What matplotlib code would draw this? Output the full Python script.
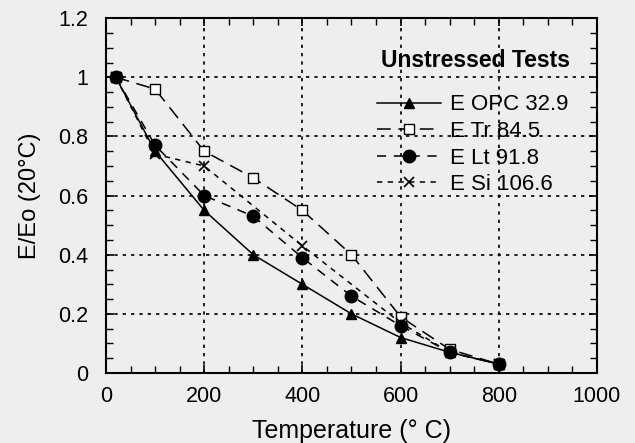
import numpy as np
import matplotlib.pyplot as plt
from matplotlib.ticker import MultipleLocator

plt.rcParams['font.family'] = ['Liberation Sans', 'DejaVu Sans']

# data
temp = [20, 100, 200, 300, 400, 500, 600, 700, 800]
opc = [1.0, 0.75, 0.55, 0.40, 0.30, 0.20, 0.12, 0.07, 0.03]
tr = [1.0, 0.96, 0.75, 0.66, 0.55, 0.40, 0.19, 0.08, 0.03]
lt = [1.0, 0.77, 0.60, 0.53, 0.39, 0.26, 0.16, 0.07, 0.03]
temp_si = [20, 100, 200, 400, 600, 700, 800]
si = [1.0, 0.74, 0.70, 0.43, 0.17, 0.07, 0.03]

bg = '#eeeeee'
fig, ax = plt.subplots(figsize=(6.35, 4.43), dpi=100)
fig.patch.set_facecolor(bg)
ax.set_facecolor(bg)
fig.subplots_adjust(left=0.167, right=0.940, bottom=0.158, top=0.959)

ax.plot(temp, opc, color='black', lw=1.1, ls='-', marker='^', ms=7,
        mfc='black', label='E OPC 32.9')
ax.plot(temp, tr, color='black', lw=1.1, ls=(0, (9, 5)), marker='s', ms=7.5,
        mfc='white', mec='black', label='E Tr 84.5')
ax.plot(temp, lt, color='black', lw=1.1, ls=(0, (6, 5)), marker='o', ms=9,
        mfc='black', label='E Lt 91.8')
ax.plot(temp_si, si, color='black', lw=1.1, ls=(0, (3.5, 3.5)), marker='x', ms=7,
        mew=1.2, label='E Si 106.6')

ax.set_xlim(0, 1000)
ax.set_ylim(0, 1.2)
ax.xaxis.set_major_locator(MultipleLocator(200))
ax.xaxis.set_minor_locator(MultipleLocator(50))
ax.yaxis.set_minor_locator(MultipleLocator(0.05))
ax.set_yticks([0, 0.2, 0.4, 0.6, 0.8, 1.0, 1.2])
ax.set_yticklabels(['0', '0.2', '0.4', '0.6', '0.8', '1', '1.2'])
ax.tick_params(which='both', direction='in', top=True, right=True,
               labelsize=15.5)
ax.tick_params(axis='x', pad=9)
ax.tick_params(axis='y', pad=13)
ax.tick_params(which='major', length=6, width=1.2)
ax.tick_params(which='minor', length=5, width=1.0)
for s in ax.spines.values():
    s.set_linewidth(1.5)

ax.grid(True, which='major', color='black', ls=(0, (2, 3)), lw=1.2)

ax.set_xlabel('Temperature (° C)', fontsize=18, labelpad=9)
ax.set_ylabel('E/Eo (20°C)', fontsize=17, labelpad=12)

leg = ax.legend(loc='upper left', bbox_to_anchor=(0.552, 0.785), frameon=False,
                fontsize=16, handlelength=2.9, handletextpad=0.4,
                labelspacing=0.25, borderpad=0, borderaxespad=0)
ax.text(0.945, 0.882, 'Unstressed Tests', transform=ax.transAxes,
        ha='right', va='center', fontsize=16.5, fontweight='bold')

plt.savefig('out.png', dpi=100, facecolor=bg)
